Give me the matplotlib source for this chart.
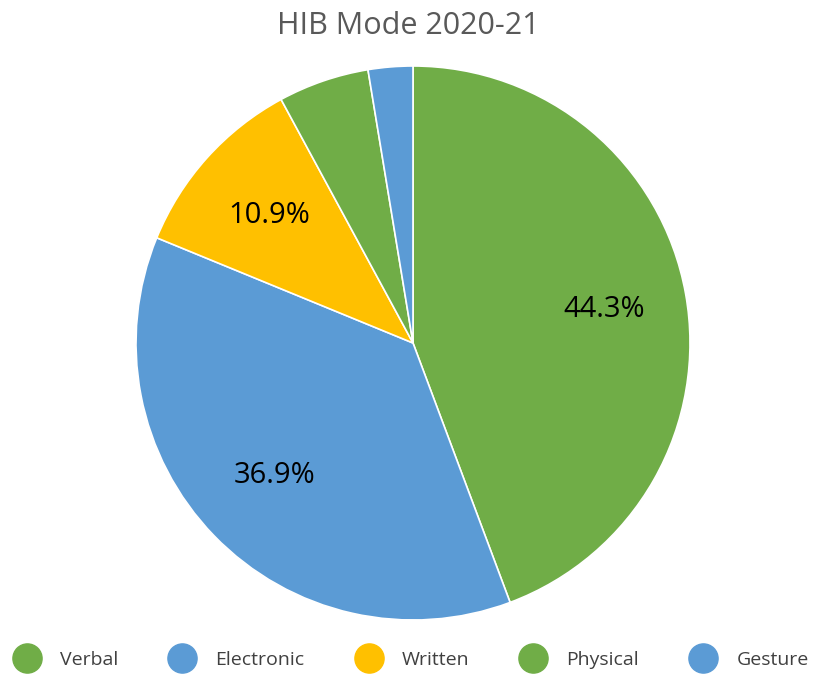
import matplotlib.pyplot as plt
from matplotlib.lines import Line2D

plt.rcParams['font.family'] = ['Open Sans', 'DejaVu Sans']

modes = ["Verbal", "Electronic", "Written", "Physical", "Gesture"]
shares = [44.3, 36.9, 10.9, 5.3, 2.6]
colors = ["#70AD47", "#5B9BD5", "#FFC000", "#70AD47", "#5B9BD5"]
show_label = [True, True, True, False, False]
# label positions in radius units (Excel "best fit" placement)
label_pos = [(0.69, 0.12), (-0.50, -0.48), (-0.52, 0.46), None, None]

fig = plt.figure(figsize=(8.16, 6.77), dpi=100)
ax = fig.add_axes([136 / 816, 57 / 677, 554 / 816, 554 / 677])

wedges, _ = ax.pie(shares, colors=colors, startangle=90, counterclock=False,
                   radius=1.0, wedgeprops=dict(edgecolor="white", linewidth=1.2))
for val, show, pos in zip(shares, show_label, label_pos):
    if show:
        ax.text(pos[0], pos[1], f"{val}%", ha="center", va="center",
                fontsize=21, color="black")
ax.set_xlim(-1, 1)
ax.set_ylim(-1, 1)
ax.set_aspect("equal")
ax.axis("off")

fig.text(0.5, 1 - 26 / 677, "HIB Mode 2020-21", ha="center", va="center",
         fontsize=22, color="#595959")

handles = [Line2D([], [], marker="o", linestyle="none", markersize=21,
                  markerfacecolor=c, markeredgecolor=c) for c in colors]
fig.legend(handles, modes, loc="center", bbox_to_anchor=(0.5, 1 - 660 / 677),
           ncol=5, frameon=False, fontsize=14, handletextpad=0.7,
           columnspacing=2.3, labelcolor="#404040")

fig.savefig("out.png", dpi=100)
